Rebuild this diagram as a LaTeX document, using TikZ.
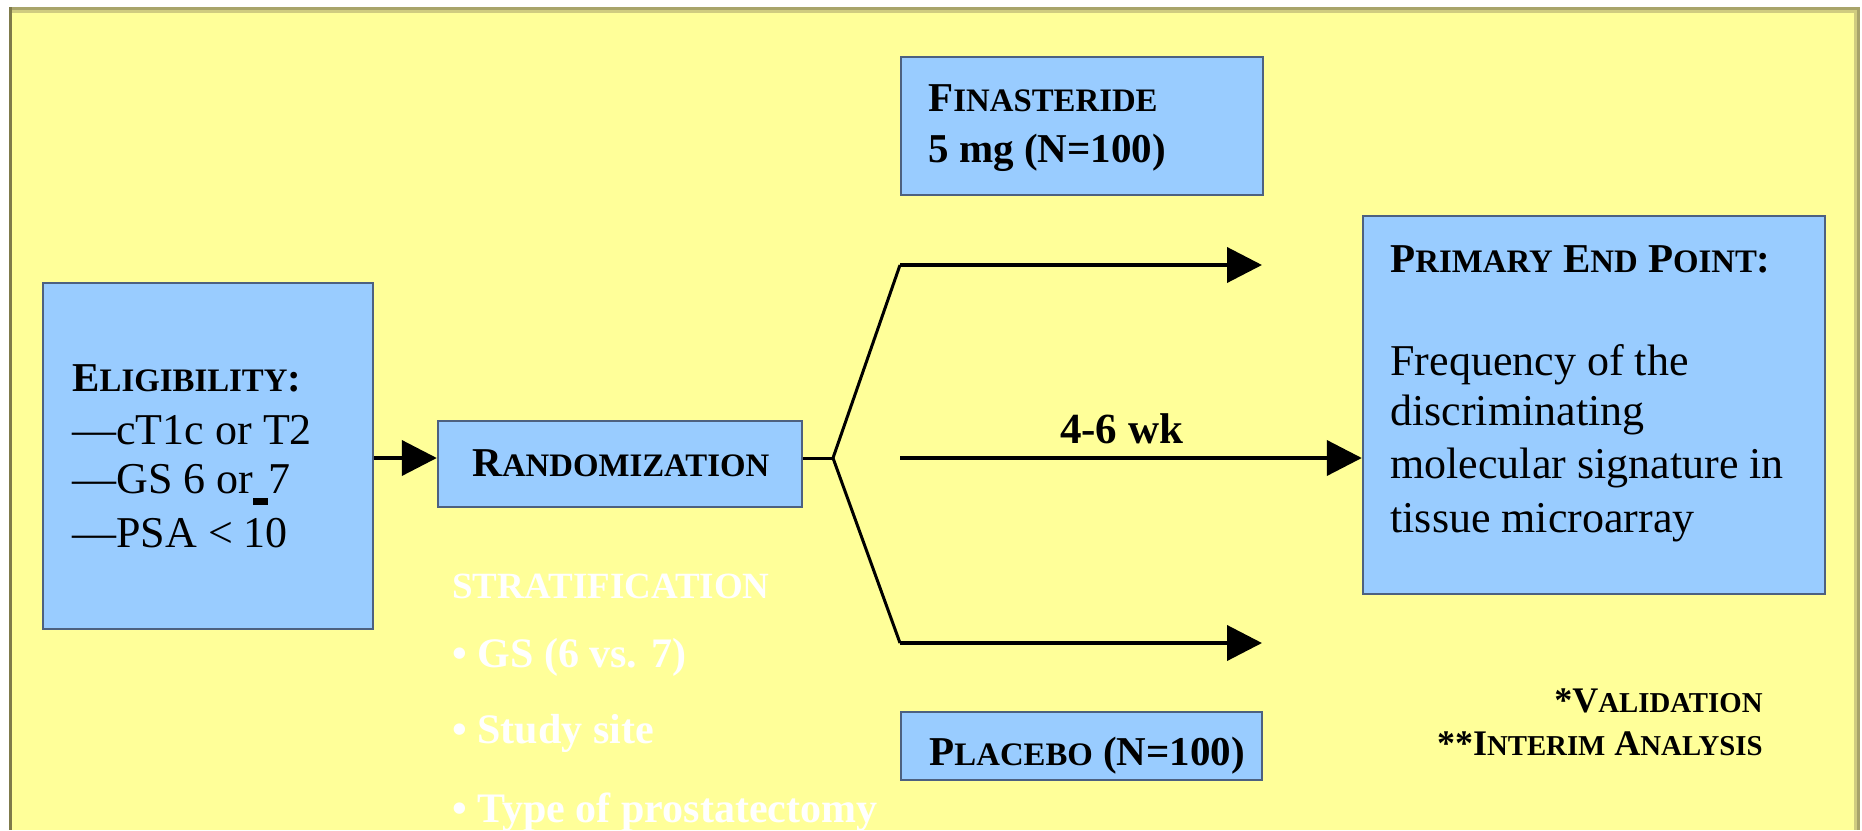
\documentclass[tikz,border=0pt]{standalone}
\usepackage{fontspec}
\setmainfont{Liberation Serif}
\usetikzlibrary{arrows.meta}

\definecolor{paper}{HTML}{FFFF99}
\definecolor{boxfill}{HTML}{99CCFF}
\definecolor{boxline}{HTML}{4D6180}
\definecolor{rimdark}{HTML}{A8A46A}
\definecolor{rimlight}{HTML}{D0CC80}
\definecolor{rimleft}{HTML}{7F7B4A}

% hand-made small capitals for the headings
\newcommand\scl[1]{{\fontsize{16.4}{20}\selectfont #1}}
\newcommand\scls[1]{{\fontsize{14.4}{18}\selectfont #1}}

\tikzset{
  box/.style={draw=boxline, fill=boxfill, line width=1.2pt, inner sep=0pt},
  body/.style={anchor=base west, inner sep=0pt, font=\fontsize{22}{26}\selectfont},
  head/.style={anchor=base west, inner sep=0pt, font=\fontsize{20.5}{26}\selectfont\bfseries},
  note/.style={anchor=base east, inner sep=0pt, font=\fontsize{18}{22}\selectfont\bfseries},
  strat/.style={anchor=base west, inner sep=0pt, text=white, font=\fontsize{21}{26}\selectfont\bfseries},
  flow/.style={line width=2pt, -{Triangle[length=17.5pt,width=17.5pt]}},
  fork/.style={line width=1.5pt},
}

\begin{document}
\begin{tikzpicture}[x=0.5pt, y=-0.5pt]
\useasboundingbox (0,0) rectangle (1862,830);

% page and framed panel
\fill[white] (0,0) rectangle (1862,830);
\fill[paper] (9,7) rectangle (1860,830);
\fill[rimdark] (9,7) rectangle (1860,10);
\fill[rimlight] (12,10) rectangle (1854,13);
\fill[rimleft] (9,7) rectangle (12,830);
\fill[rimlight] (1854,10) rectangle (1857,830);
\fill[rimdark] (1857,7) rectangle (1860,830);

% boxes
\node[box, minimum width=165pt, minimum height=173pt] (elig) at (208,456) {};
\node[box, minimum width=182pt, minimum height=43pt] (rand) at (620,464) {};
\node[box, minimum width=181pt, minimum height=69pt] (fin) at (1082,126) {};
\node[box, minimum width=180.5pt, minimum height=34pt] (plac) at (1081.5,746) {};
\node[box, minimum width=231pt, minimum height=189pt] (prim) at (1594,405) {};

% eligibility
\node[head] (eligH) at (72,391) {E\scl{LIGIBILITY}:};
\node[body] (elig1) at (72,444) {—cT1c or T2};
\node[body] (elig2) at (72,493) {—GS 6 or\rule[-6pt]{7.5pt}{3.5pt}7};
\node[body] (elig3) at (72,547) {—PSA < 10};

% randomization
\node[head] (randT) at (472,476) {R\scl{ANDOMIZATION}};

% arms
\node[head] (finT) at (928,111) {F\scl{INASTERIDE}};
\node[head] (finD) at (928,162) {5 mg (N=100)};
\node[head] (placT) at (929,765) {P\scl{LACEBO} (N=100)};

% end point
\node[head] (primH) at (1390,272) {P\scl{RIMARY} E\scl{ND} P\scl{OINT}:};
\node[body] (prim1) at (1390,375) {Frequency of the};
\node[body] (prim2) at (1390,425) {discriminating};
\node[body] (prim3) at (1390,478) {molecular signature in};
\node[body] (prim4) at (1390,532) {tissue microarray};

% stratification list
\node[strat, font=\fontsize{18.5}{22}\selectfont\bfseries] (stratH) at (452,598) {STRATIFICATION};
\node[strat] (strat1) at (452,667) {• GS (6 vs. 7)};
\node[strat] (strat2) at (452,743) {• Study site};
\node[strat] (strat3) at (452,822) {• Type of prostatectomy};

% footnote legend
\node[note] (legA) at (1763,712) {*V\scls{ALIDATION}};
\node[note] (legB) at (1763,755) {**I\scls{NTERIM} A\scls{NALYSIS}};

% connectors
\coordinate (split) at (833,458);
\coordinate (upK) at (900,265);
\coordinate (upEnd) at (1262,265);
\coordinate (midK) at (900,458);
\coordinate (loK) at (900,643);
\coordinate (loEnd) at (1262,643);

\draw[flow] (elig.east |- split) -- (rand.west |- split);
\draw[fork] (rand.east |- split) -- (split);
\draw[fork] (split) -- (upK);
\draw[fork] (split) -- (loK);
\draw[flow] (upK) -- (upEnd);
\draw[flow] (loK) -- (loEnd);
\draw[flow] (midK) -- (prim.west |- midK)
  node[pos=0.48, anchor=base, inner sep=0pt, yshift=7.5pt, font=\fontsize{21.5}{26}\selectfont\bfseries] (wk) {4-6 wk};
\end{tikzpicture}
\end{document}
